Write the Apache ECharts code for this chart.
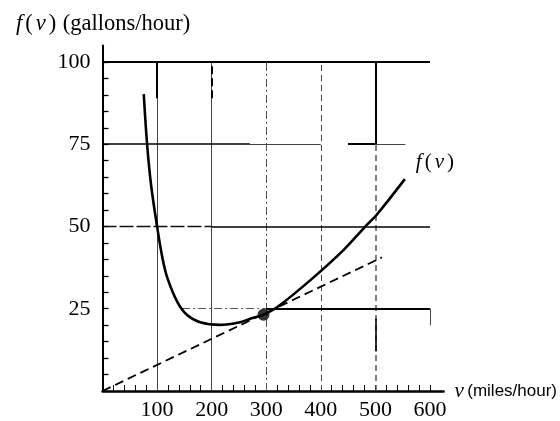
<!DOCTYPE html>
<html>
<head>
<meta charset="utf-8">
<script src="https://cdn.jsdelivr.net/npm/echarts@6/dist/echarts.min.js"></script>
<style>html,body{margin:0;padding:0;background:#fff}#c{width:560px;height:421px}</style>
</head>
<body>
<div id="c"></div>
<script>
// ---- data ----
const curveV = [75.6, 81.7, 89, 100, 110, 119, 137, 155, 179, 215, 252, 273, 295, 321, 381, 442, 481, 502, 554];
const curveF = [90.2, 75, 62.6, 50, 40.3, 34.3, 27.1, 23.1, 20.9, 20.1, 20.9, 22.1, 23.2, 25.6, 33.7, 42.9, 49.9, 53.5, 64.4];
const tangentV = [0, 512];
const tangentF = [0, 40.6];
const pointV = [295];
const pointF = [23.2];
const xLabels = [100, 200, 300, 400, 500, 600];
const yLabels = [25, 50, 75, 100];
const gridV = [100, 200, 300, 400, 500];
const gridH = [25, 50, 75, 100];

const xTicks = []; for (let v = 20; v <= 600; v += 20) xTicks.push(v);
const yTicks = []; for (let v = 5; v <= 100; v += 5) yTicks.push(v);

const SERIF = '"Liberation Serif", "DejaVu Serif", serif';
const thin = () => ({color: '#444', width: 1, type: 'solid', opacity: 1});
const thinDash = () => ({color: '#444', width: 1, type: [6, 4], opacity: 1});
const wideDash = () => ({color: '#555', width: 1.5, type: [6, 4], opacity: 1});
const dashDot = () => ({color: '#555', width: 1, type: [8, 3, 2, 3], opacity: 1});
const thick = () => ({color: '#000', width: 2, type: 'solid', opacity: 1});
const mid = () => ({color: '#000', width: 1.6, type: 'solid', opacity: 1});
const thickDash = () => ({color: '#000', width: 2, type: [8, 4], opacity: 1});
const longDash = () => ({color: '#111', width: 1.4, type: [14, 3], opacity: 1});

function seg(x1, y1, x2, y2, style) {
  return {coords: [[x1, y1], [x2, y2]], lineStyle: style};
}
const yTopLine = gridH[3], xEnd = xLabels[5];
const gridSegs = [
  // vertical lines
  seg(gridV[0], 0, gridV[0], yTopLine, thin()),
  seg(gridV[0], 89, gridV[0], yTopLine, thick()),
  seg(gridV[1], 0, gridV[1], yTopLine, thin()),
  seg(gridV[1], 89, gridV[1], yTopLine, thickDash()),
  seg(gridV[2], 0, gridV[2], yTopLine, dashDot()),
  seg(gridV[3], 0, gridV[3], yTopLine, thinDash()),
  seg(gridV[4], 0, gridV[4], yTopLine, wideDash()),
  seg(gridV[4], 75, gridV[4], yTopLine, thick()),
  seg(gridV[4], 12, gridV[4], 22, mid()),
  // horizontal lines
  seg(0, gridH[3], xEnd, gridH[3], thick()),
  seg(0, gridH[2], 270, gridH[2], mid()),
  seg(270, gridH[2], 400, gridH[2], thin()),
  seg(450, gridH[2], 500, gridH[2], thick()),
  seg(500, gridH[2], 555, gridH[2], thin()),
  seg(0, gridH[1], 200, gridH[1], longDash()),
  seg(200, gridH[1], xEnd, gridH[1], mid()),
  seg(146, gridH[0], 300, gridH[0], dashDot()),
  seg(300, gridH[0], xEnd, gridH[0], thick()),
  seg(xEnd, 20, xEnd, gridH[0], thin())
];

const chart = echarts.init(document.getElementById('c'), null, {renderer: 'canvas'});
chart.setOption({
  backgroundColor: '#fff',
  animation: false,
  title: {
    text: '{i|f}{n|(}{i|v}{n|)} (gallons/hour)',
    left: 9, top: 8,
    textStyle: {
      fontFamily: SERIF, fontSize: 22.5, fontWeight: 'normal', color: '#000',
      rich: {
        i: {fontFamily: SERIF, fontSize: 22.5, fontStyle: 'italic', color: '#000', padding: [0, 2, 0, 2]},
        n: {fontFamily: SERIF, fontSize: 22.5, color: '#000', padding: [0, 1, 0, 1]}
      }
    }
  },
  grid: {left: 102.5, right: 112, top: 45.5, bottom: 30, containLabel: false},
  xAxis: {
    type: 'value', min: 0, max: 625,
    name: '{v|v} {s|(miles/hour)}', nameLocation: 'end', nameGap: 11,
    nameTextStyle: {
      verticalAlign: 'middle', align: 'left',
      rich: {
        v: {fontFamily: SERIF, fontStyle: 'italic', fontSize: 21, color: '#000'},
        s: {fontFamily: '"Liberation Sans", Arial, sans-serif', fontSize: 17, color: '#000'}
      }
    },
    axisLine: {show: true, onZero: false, lineStyle: {color: '#000', width: 2.5}},
    axisTick: {show: true, inside: true, length: 6, customValues: xTicks, lineStyle: {color: '#000', width: 1}},
    axisLabel: {customValues: xLabels, margin: 8, fontFamily: SERIF, fontSize: 22, color: '#000'},
    splitLine: {show: false}
  },
  yAxis: {
    type: 'value', min: 0, max: 105,
    axisLine: {show: true, onZero: false, lineStyle: {color: '#000', width: 2}},
    axisTick: {show: true, inside: true, length: 6, customValues: yTicks, lineStyle: {color: '#000', width: 1.3}},
    axisLabel: {customValues: yLabels, margin: 12, fontFamily: SERIF, fontSize: 22, color: '#000'},
    splitLine: {show: false}
  },
  series: [
    {
      type: 'lines', coordinateSystem: 'cartesian2d', silent: true, z: 1,
      symbol: ['none', 'none'], polyline: false, large: false,
      lineStyle: {opacity: 1},
      data: gridSegs
    },
    {
      type: 'line', silent: true, z: 2,
      data: tangentV.map((v, i) => [v, tangentF[i]]),
      symbol: 'none',
      lineStyle: {color: '#000', width: 1.8, type: [9, 5]}
    },
    {
      type: 'line', silent: true, z: 3,
      data: curveV.map((v, i) => [v, curveF[i]]),
      smooth: 0.35, symbol: 'none',
      lineStyle: {color: '#000', width: 2.6},
      endLabel: {
        show: true, formatter: '{i|f}{n|(}{i|v}{n|)}', offset: [1, -17],
        fontFamily: SERIF, fontSize: 21, color: '#000',
        rich: {
          i: {fontFamily: SERIF, fontSize: 21, fontStyle: 'italic', color: '#000', padding: [0, 2, 0, 2]},
          n: {fontFamily: SERIF, fontSize: 21, color: '#000', padding: [0, 1, 0, 1]}
        }
      }
    },
    {
      type: 'scatter', silent: true, z: 4,
      data: pointV.map((v, i) => [v, pointF[i]]),
      symbol: 'circle', symbolSize: 12,
      itemStyle: {color: '#000'}
    }
  ]
});
</script>
</body>
</html>
